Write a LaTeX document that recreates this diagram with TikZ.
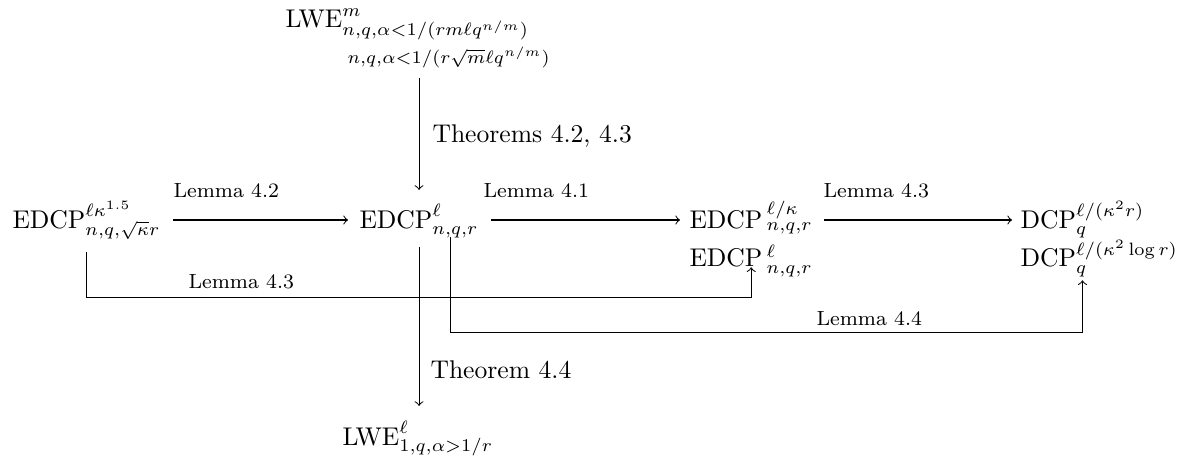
\documentclass[tikz,border=0pt]{standalone}
\usetikzlibrary{calc}
\begin{document}
\begin{tikzpicture}[x=0.3906pt,y=-0.3906pt,
  txt/.style={inner sep=0pt, anchor=base west},
  lbl/.style={inner sep=0pt, anchor=base west, font=\footnotesize},
  thm/.style={inner sep=0pt, anchor=base west},
  arr/.style={->}]
\useasboundingbox (0,0) rectangle (1186,460);
% nodes
\node[txt] (t1) at (285,28) {$\mathrm{LWE}^{m}_{n,q,\alpha<1/(rm\ell q^{n/m})}$};
\node[txt] (t2) at (347,64) {$\scriptstyle n,q,\alpha<1/(r\sqrt{m}\ell q^{n/m})$};
\node[txt] (e1) at (12,228) {$\mathrm{EDCP}^{\ell\kappa^{1.5}}_{n,q,\sqrt{\kappa}r}$};
\node[txt] (e2) at (359,228) {$\mathrm{EDCP}^{\ell}_{n,q,r}$};
\node[txt] (e3) at (689,228) {$\mathrm{EDCP}\,{}^{\ell/\kappa}_{n,q,r}$};
\node[txt] (e3b) at (689,267) {$\mathrm{EDCP}\,{}^{\ell}_{n,q,r}$};
\node[txt] (d1) at (1020,228) {$\mathrm{DCP}^{\ell/(\kappa^2 r)}_{q}$};
\node[txt] (d2) at (1020,267) {$\mathrm{DCP}^{\ell/(\kappa^2\log r)}_{q}$};
\node[txt] (b) at (342,445) {$\mathrm{LWE}^{\ell}_{1,q,\alpha>1/r}$};
% horizontal arrows
\draw[arr] ($(e1.base east)+(12,-8)$) -- ($(e2.base west)+(-11,-8)$);
\draw[arr] ($(e2.base east)+(12,-8)$) -- ($(e3.base west)+(-9,-8)$);
\draw[arr] ($(e3.base east)+(11,-8)$) -- ($(d1.base west)+(-8,-8)$);
% vertical arrows
\draw[arr] ($(t2.south -| e2.north)+(0,9)$) -- ($(e2.north)+(0,-14)$);
\draw[arr] ($(e2.south)+(0,9)$) -- ($(b.north -| e2.south)+(0,-15)$);
% lower paths
\coordinate (p1) at ($(e1.south)+(0,12)$);
\coordinate (p1l) at ($(e1.south)+(0,57)$);
\draw[arr] (p1) -- (p1l) -| ($(e3b.south)+(0,-10)$);
\coordinate (p2) at ($(e2.south)+(31,-1)$);
\coordinate (p2l) at ($(e2.south)+(31,94)$);
\draw[arr] (p2) -- (p2l) -| ($(d1.south |- d2.south)+(0,3)$);
% labels
\node[lbl] (l42) at (173,197) {Lemma 4.2};
\node[lbl] (l41) at (483,197) {Lemma 4.1};
\node[lbl] (l43) at (823,197) {Lemma 4.3};
\node[lbl] (l43b) at (188,288) {Lemma 4.3};
\node[lbl] (l44) at (816,325) {Lemma 4.4};
\node[thm] (th1) at (432,143) {Theorems 4.2, 4.3};
\node[thm] (th2) at (430,378) {Theorem 4.4};
\end{tikzpicture}
\end{document}
